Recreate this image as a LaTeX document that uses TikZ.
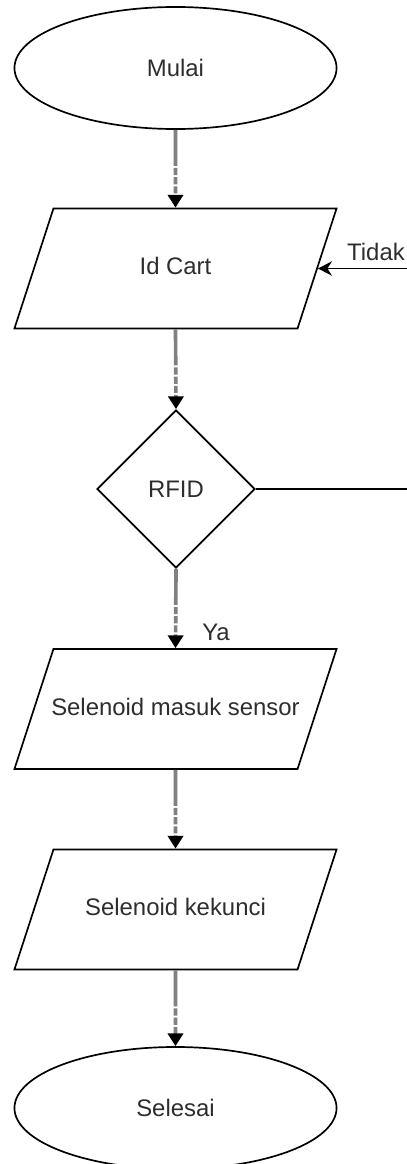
\documentclass[tikz,border=0pt]{standalone}
\usepackage{fontspec}
\setmainfont{Liberation Sans}
\definecolor{flgray}{RGB}{128,128,128}
\definecolor{fltext}{RGB}{45,45,45}
\usetikzlibrary{arrows.meta,positioning,shapes.geometric}

\begin{document}
\begin{tikzpicture}[x=0.025cm, y=-0.025cm,
  tbox/.style={ellipse, draw, line width=1.2pt, minimum width=8.05cm, minimum height=3.05cm,
               inner sep=0pt, font=\fontsize{17}{20}\selectfont, text=fltext},
  iobox/.style={trapezium, trapezium left angle=72, trapezium right angle=108,
               trapezium stretches body=true, draw, line width=1.2pt,
               minimum width=8.05cm, text height=0.45cm, text depth=0.15cm,
               inner xsep=-0.12cm, inner ysep=1.2cm, font=\fontsize{17}{20}\selectfont, text=fltext},
  dbox/.style={diamond, draw, line width=1.2pt, minimum width=3.95cm, minimum height=3.95cm,
               inner sep=0pt, font=\fontsize{17}{20}\selectfont, text=fltext},
  farr/.style={-{Triangle[length=0.32cm, width=0.38cm, color=black]}, draw=flgray, line width=2.6pt,
               dash pattern=on 0.9cm off 0.05cm on 0.18cm off 0.05cm on 0.18cm off 0.05cm on 0.18cm off 0.05cm on 1cm},
  larr/.style={-{Stealth[length=0.35cm, width=0.36cm]}, line width=1.3pt},
  lbl/.style={font=\fontsize{17}{20}\selectfont, text=fltext, inner sep=0pt}
]
\useasboundingbox (0,0) rectangle (407,1164);
\clip (0,0) rectangle (407,1164);

% Flow nodes
\node[tbox]  (mulai)   at (175.5,  68) {Mulai};
\node[iobox] (idcart)  at (175.5, 268.5) {Id Cart};
\node[dbox]  (rfid)    at (176,   489) {RFID};
\node[iobox] (masuk)   at (175.5, 709) {Selenoid masuk sensor};
\node[iobox] (kunci)   at (175.5, 909.5) {Selenoid kekunci};
\node[tbox]  (selesai) at (175.5, 1108) {Selesai};

% Labels
\node[lbl] (tidak) at (376, 252) {Tidak};
\node[lbl] (ya)    at (216, 632) {Ya};

% Arrows
\draw[farr] (mulai.south)  -- (idcart.north);
\draw[farr] (idcart.south) -- (rfid.north);
\draw[farr] (rfid.south)   -- (masuk.north);
\draw[farr] (masuk.south)  -- (kunci.north);
\draw[farr] (kunci.south)  -- (selesai.north);

% Loop back
\coordinate (back) at (440, 489);
\draw[larr] (rfid.east) -- (back) |- (idcart.east);
\end{tikzpicture}
\end{document}
